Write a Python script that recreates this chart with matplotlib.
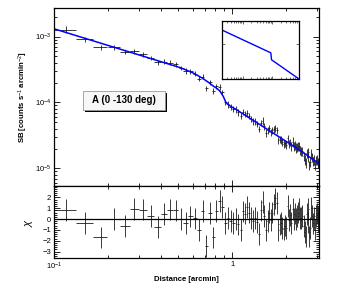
import numpy as np
import matplotlib
matplotlib.use('Agg')
import matplotlib.pyplot as plt
from matplotlib.patches import Rectangle
from matplotlib.ticker import LogLocator, MultipleLocator, NullFormatter, FixedLocator, FixedFormatter

plt.rcParams['font.family'] = ['Liberation Sans', 'DejaVu Sans']
plt.rcParams['mathtext.fontset'] = 'custom'
plt.rcParams['mathtext.rm'] = 'Liberation Sans'
plt.rcParams['mathtext.it'] = 'Liberation Sans:italic'
plt.rcParams['mathtext.bf'] = 'Liberation Sans:bold'

# radial bins (arcmin), 2 arcsec wide
radius = [0.117, 0.150, 0.183, 0.217, 0.250, 0.283, 0.317, 0.350, 0.383, 0.417,
          0.450, 0.483, 0.517, 0.550, 0.583, 0.617, 0.650, 0.683, 0.717, 0.750,
          0.783, 0.817, 0.850, 0.883, 0.917, 0.950, 0.983, 1.017, 1.050, 1.083,
          1.117, 1.150, 1.183, 1.217, 1.250, 1.283, 1.317, 1.350, 1.383, 1.417,
          1.450, 1.483, 1.517, 1.550, 1.583, 1.617, 1.650, 1.683, 1.717, 1.750,
          1.783, 1.817, 1.850, 1.883, 1.917, 1.950, 1.983, 2.017, 2.050, 2.083,
          2.117, 2.150, 2.183, 2.217, 2.250, 2.283, 2.317, 2.350, 2.383, 2.417,
          2.450, 2.483, 2.517, 2.550, 2.583, 2.617, 2.650, 2.683, 2.717, 2.750,
          2.783, 2.817, 2.850, 2.883, 2.917, 2.950, 2.983, 3.017, 3.050]
bin_half = 1.0 / 60

# surface brightness (counts s^-1 arcmin^-2)
sb = [1.27e-3, 9.10e-4, 6.84e-4, 6.89e-4, 5.81e-4, 5.93e-4, 5.38e-4, 4.73e-4, 4.04e-4, 4.15e-4,
      4.03e-4, 3.77e-4, 3.35e-4, 3.01e-4, 2.99e-4, 2.73e-4, 2.29e-4, 2.47e-4, 1.64e-4, 2.04e-4,
      1.50e-4, 1.76e-4, 1.72e-4, 1.42e-4, 1.01e-4, 9.42e-5, 8.53e-5, 7.96e-5, 7.85e-5, 7.05e-5,
      6.30e-5, 7.24e-5, 6.75e-5, 6.84e-5, 6.21e-5, 5.62e-5, 5.20e-5, 5.15e-5, 4.72e-5, 3.96e-5,
      4.91e-5, 5.24e-5, 4.33e-5, 3.49e-5, 3.77e-5, 4.03e-5, 3.56e-5, 3.76e-5, 3.95e-5, 4.06e-5,
      3.76e-5, 2.65e-5, 2.77e-5, 2.73e-5, 2.49e-5, 2.37e-5, 2.42e-5, 2.28e-5, 2.86e-5, 2.37e-5,
      2.47e-5, 2.15e-5, 2.54e-5, 2.16e-5, 2.28e-5, 2.06e-5, 2.10e-5, 2.15e-5, 2.18e-5, 1.89e-5,
      1.84e-5, 1.85e-5, 1.55e-5, 1.36e-5, 1.22e-5, 1.72e-5, 1.49e-5, 1.75e-5, 1.11e-5, 1.27e-5,
      1.67e-5, 1.47e-5, 1.28e-5, 1.36e-5, 1.11e-5, 1.34e-5, 1.36e-5, 1.19e-5, 1.24e-5]

# fractional 1-sigma errors on sb
sb_frac_err = [0.12, 0.08, 0.08, 0.08, 0.08, 0.08, 0.08, 0.08, 0.08, 0.08,
               0.08, 0.08, 0.08, 0.09, 0.09, 0.09, 0.09, 0.09, 0.09, 0.09,
               0.09, 0.09, 0.09, 0.09, 0.09, 0.11, 0.11, 0.11, 0.11, 0.11,
               0.11, 0.11, 0.11, 0.11, 0.11, 0.11, 0.11, 0.11, 0.11, 0.11,
               0.11, 0.13, 0.13, 0.13, 0.13, 0.13, 0.13, 0.13, 0.13, 0.13,
               0.13, 0.13, 0.13, 0.13, 0.13, 0.13, 0.13, 0.13, 0.13, 0.13,
               0.13, 0.16, 0.16, 0.16, 0.16, 0.16, 0.16, 0.16, 0.16, 0.16,
               0.16, 0.16, 0.16, 0.16, 0.16, 0.16, 0.16, 0.16, 0.16, 0.16,
               0.16, 0.16, 0.16, 0.16, 0.16, 0.16, 0.16, 0.16, 0.16]

# residuals (data - model) / error
chi = [0.86, -0.34, -1.7, 0.0, -0.65, 0.93, 0.88, 0.28, -0.72, 0.48,
       0.88, 0.80, 0.0, -0.37, 0.25, 0.06, -1.0, 0.74, -2.5, 0.55,
       -1.7, 0.77, 1.66, 1.1, -0.37, 0.1, -0.2, -0.35, 0.0, -0.5,
       -1.0, 0.7, 0.5, 1.1, 0.6, 0.1, -0.2, 0.1, -0.3, -1.4,
       0.8, 1.6, 0.3, -1.0, -0.2, 0.6, -0.1, 0.6, 1.35, 1.9,
       1.5, -1.0, -0.5, -0.35, -0.8, -0.95, -0.6, -0.8, 1.2, -0.1,
       0.4, -0.35, 0.9, 0.0, 0.5, 0.0, 0.3, 0.6, 0.9, 0.1,
       0.1, 0.3, -0.65, -1.2, -1.6, 0.45, -0.3, 0.9, -1.6, -0.8,
       1.05, 0.3, -0.4, 0.1, -0.95, 0.3, 0.5, -0.2, 0.2]

# best-fit model curve
model_r = [0.1, 0.2, 0.3, 0.4, 0.51, 0.6, 0.68, 0.74, 0.78, 0.83, 0.86, 0.893,
           0.92, 0.94, 0.974, 1.063, 1.5, 2.31, 3.08]
model_sb = [1.31e-3, 7.36e-4, 5.26e-4, 4.14e-4, 3.38e-4, 2.83e-4, 2.34e-4, 2.0e-4,
            1.79e-4, 1.6e-4, 1.45e-4, 1.23e-4, 1.02e-4, 9.5e-5, 8.85e-5, 7.7e-5,
            4.26e-5, 2.02e-5, 1.18e-5]

# inset: underlying broken power law
inset_r = [0.02, 0.9, 0.95, 8.0]
inset_sb = [1.68e-2, 1.78e-4, 4.5e-5, 1.0e-6]

label_text = 'A (0 -130 deg)'

radius = np.array(radius)
sb = np.array(sb)
sb_err = sb * np.array(sb_frac_err)

fig = plt.figure(figsize=(3.55, 2.88), dpi=100)
ax = fig.add_axes([0.152, 0.354, 0.747, 0.618])
axr = fig.add_axes([0.152, 0.104, 0.747, 0.250], sharex=ax)


def root_ticks(a):
    a.tick_params(which='both', direction='in', top=True, right=True,
                  labelsize=5.5, width=0.6, pad=2)
    a.tick_params(which='major', length=4)
    a.tick_params(which='minor', length=2)
    for s in a.spines.values():
        s.set_linewidth(0.9)


ax.errorbar(radius, sb, xerr=bin_half, yerr=sb_err, fmt='none',
            ecolor='#1a1a1a', elinewidth=0.6, capsize=0)
ax.plot(model_r, model_sb, color='#0000ff', lw=1.1)
ax.set_xscale('log')
ax.set_yscale('log')
ax.set_xlim(0.1, 3.08)
ax.set_ylim(5.4e-6, 2.7e-3)
ax.yaxis.set_major_locator(LogLocator(base=10, numticks=10))
ax.yaxis.set_minor_locator(LogLocator(base=10, subs=np.arange(2, 10), numticks=10))
ax.yaxis.set_minor_formatter(NullFormatter())
ax.tick_params(axis='x', which='both', labelbottom=False)
root_ticks(ax)
ax.set_ylabel('SB [counts s$^{-1}$ arcmin$^{-2}$]', fontsize=5.6, fontweight='bold', labelpad=3)

# label box with shadow
ax.add_patch(Rectangle((0.118, 0.415), 0.31, 0.107, transform=ax.transAxes,
                       facecolor='black', edgecolor='none', zorder=5))
ax.add_patch(Rectangle((0.109, 0.427), 0.31, 0.107, transform=ax.transAxes,
                       facecolor='#f7f7f7', edgecolor='#999999', lw=0.6, zorder=6))
ax.text(0.264, 0.481, label_text, transform=ax.transAxes, fontsize=7,
        fontweight='bold', ha='center', va='center', zorder=7)

# residuals
axr.errorbar(radius, chi, xerr=bin_half, yerr=1.0, fmt='none',
             ecolor='#1a1a1a', elinewidth=0.6, capsize=0)
axr.axhline(0, color='black', lw=0.9)
axr.set_ylim(-3.6, 3.05)
axr.yaxis.set_major_locator(FixedLocator([-3, -2, -1, 0, 1, 2]))
axr.yaxis.set_minor_locator(MultipleLocator(0.2))
axr.xaxis.set_major_locator(FixedLocator([0.1, 1]))
axr.xaxis.set_major_formatter(FixedFormatter(['$10^{-1}$', '1']))
axr.xaxis.set_minor_locator(FixedLocator([0.2, 0.3, 0.4, 0.5, 0.6, 0.7, 0.8, 0.9, 2, 3]))
axr.xaxis.set_minor_formatter(NullFormatter())
root_ticks(axr)
axr.set_ylabel(r'$\chi$', fontsize=8, labelpad=5)
axr.set_xlabel('Distance [arcmin]', fontsize=5.6, fontweight='bold', labelpad=3)

# inset
axi = fig.add_axes([0.625, 0.726, 0.217, 0.201])
axi.plot(inset_r, inset_sb, color='#0000ff', lw=1.0)
axi.set_xscale('log')
axi.set_yscale('log')
axi.set_xlim(0.02, 8.0)
axi.set_ylim(1e-6, 1e-1)
axi.tick_params(which='both', direction='in', top=True, right=True,
                labelbottom=False, labelleft=False, width=0.4)
axi.tick_params(which='major', length=2.5)
axi.tick_params(which='minor', length=1.2)
axi.xaxis.set_minor_formatter(NullFormatter())
axi.yaxis.set_minor_formatter(NullFormatter())
for s in axi.spines.values():
    s.set_linewidth(0.9)

fig.savefig('out.png', dpi=100)
